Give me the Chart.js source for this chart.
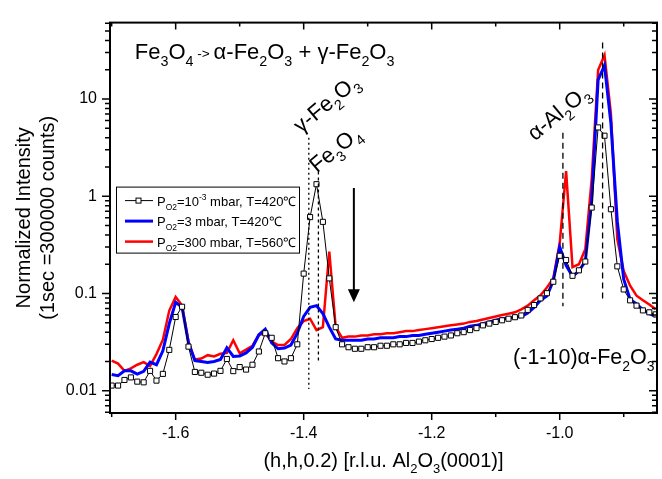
<!DOCTYPE html>
<html><head><meta charset="utf-8">
<script src="https://cdn.jsdelivr.net/npm/chart.js@4/dist/chart.umd.min.js"></script>
<style>html,body{margin:0;padding:0;background:#fff}</style>
</head><body>
<canvas id="c" width="662" height="479"></canvas>
<script>
// ---- data ----
const hValues = [-1.70,-1.69,-1.68,-1.67,-1.66,-1.65,-1.64,-1.63,-1.62,-1.61,-1.60,-1.59,-1.58,-1.57,-1.56,-1.55,-1.54,-1.53,-1.52,-1.51,-1.50,-1.49,-1.48,-1.47,-1.46,-1.45,-1.44,-1.43,-1.42,-1.41,-1.40,-1.39,-1.38,-1.37,-1.36,-1.35,-1.34,-1.33,-1.32,-1.31,-1.30,-1.29,-1.28,-1.27,-1.26,-1.25,-1.24,-1.23,-1.22,-1.21,-1.20,-1.19,-1.18,-1.17,-1.16,-1.15,-1.14,-1.13,-1.12,-1.11,-1.10,-1.09,-1.08,-1.07,-1.06,-1.05,-1.04,-1.03,-1.02,-1.01,-1.00,-0.99,-0.98,-0.97,-0.96,-0.95,-0.94,-0.93,-0.92,-0.91,-0.90,-0.89,-0.88,-0.87,-0.86,-0.85];
const lowP = [0.0113,0.0113,0.0129,0.0137,0.0124,0.0122,0.0160,0.0127,0.0149,0.0263,0.0573,0.0730,0.0284,0.0156,0.0153,0.0146,0.0150,0.0160,0.0212,0.0159,0.0175,0.0165,0.0185,0.0253,0.0390,0.0350,0.0216,0.0200,0.0216,0.0300,0.160,0.610,1.33,0.545,0.143,0.045,0.030,0.028,0.027,0.027,0.028,0.028,0.029,0.029,0.030,0.030,0.031,0.031,0.032,0.033,0.034,0.035,0.036,0.037,0.039,0.040,0.042,0.044,0.047,0.049,0.051,0.053,0.055,0.057,0.0594,0.0678,0.076,0.089,0.1007,0.132,0.244,0.221,0.152,0.173,0.213,0.764,5.10,4.19,0.735,0.190,0.110,0.085,0.075,0.067,0.064,0.061];
const midP = [0.0147,0.0143,0.016,0.016,0.0148,0.0158,0.0197,0.0185,0.0257,0.049,0.081,0.072,0.031,0.0204,0.020,0.0195,0.020,0.021,0.0277,0.0225,0.0228,0.0245,0.028,0.0376,0.043,0.031,0.027,0.0275,0.0295,0.039,0.058,0.072,0.075,0.062,0.045,0.034,0.033,0.033,0.033,0.033,0.034,0.034,0.035,0.035,0.035,0.036,0.036,0.037,0.037,0.038,0.039,0.040,0.041,0.042,0.043,0.044,0.046,0.047,0.049,0.051,0.053,0.055,0.056,0.057,0.058,0.063,0.072,0.085,0.094,0.135,0.30,0.195,0.150,0.170,0.215,0.9,15.7,22.1,5.6,0.55,0.14,0.087,0.078,0.068,0.062,0.058];
const highP = [0.0204,0.019,0.016,0.017,0.0185,0.0197,0.018,0.0238,0.0335,0.0667,0.092,0.075,0.032,0.0209,0.0214,0.0232,0.0225,0.024,0.0245,0.033,0.0243,0.0265,0.029,0.0376,0.039,0.032,0.0295,0.0295,0.034,0.044,0.052,0.055,0.042,0.045,0.27,0.045,0.035,0.036,0.036,0.037,0.037,0.038,0.038,0.039,0.039,0.040,0.041,0.041,0.042,0.043,0.044,0.045,0.046,0.047,0.048,0.049,0.051,0.052,0.054,0.056,0.058,0.060,0.062,0.064,0.0686,0.075,0.085,0.096,0.115,0.143,0.33,1.81,0.187,0.20,0.285,1.5,19.8,28.2,7.05,0.36,0.17,0.12,0.095,0.085,0.077,0.069];
const seriesNames = [
  [["P","n"],["O2","sub"],["=10","n"],["-3","sup"],[" mbar, T=420\u2103","n"]],
  [["P","n"],["O2","sub"],["=3 mbar, T=420\u2103","n"]],
  [["P","n"],["O2","sub"],["=300 mbar, T=560\u2103","n"]]
];
const xTickValues = [-1.6,-1.4,-1.2,-1.0];
const xMinorValues = [-1.7,-1.5,-1.3,-1.1,-0.9];
const yTickValues = [0.01,0.1,1,10];

const FONT = '"Liberation Sans", Arial, sans-serif';
function rich(ctx, parts, x, y, size, angle, measureOnly) {
  let cx = 0;
  ctx.save();
  ctx.translate(x, y); ctx.rotate(angle || 0);
  ctx.textBaseline = 'alphabetic'; ctx.textAlign = 'left';
  for (const [t, k] of parts) {
    let s = size, dy = 0;
    if (k === 'sub') { s = size * 0.65; dy = size * 0.32; }
    else if (k === 'sup') { s = size * 0.65; dy = -size * 0.42; }
    else if (k === 'small') { s = size * 0.62; dy = -size * 0.05; }
    ctx.font = s + 'px ' + FONT;
    if (!measureOnly) ctx.fillText(t, cx, dy);
    cx += ctx.measureText(t).width;
  }
  ctx.restore();
  return cx;
}

const deco = {
  id: 'deco',
  afterDraw(chart) {
    const ctx = chart.ctx, a = chart.chartArea, xs = chart.scales.x, ys = chart.scales.y;
    const X = v => xs.getPixelForValue(v), Y = v => ys.getPixelForValue(v);
    ctx.save();
    ctx.strokeStyle = '#000'; ctx.fillStyle = '#000';
    // frame
    ctx.lineWidth = 2;
    ctx.strokeRect(a.left, a.top, a.right - a.left, a.bottom - a.top);
    // x ticks
    ctx.lineWidth = 1.5;
    const xt = (v, len) => {
      const p = X(v);
      ctx.beginPath(); ctx.moveTo(p, a.bottom); ctx.lineTo(p, a.bottom + len);
      ctx.moveTo(p, a.top); ctx.lineTo(p, a.top + len); ctx.stroke();
    };
    xTickValues.forEach(v => xt(v, 7));
    xMinorValues.forEach(v => xt(v, 4));
    // y ticks
    for (let e = -3; e <= 2; e++) {
      for (let m = 1; m <= 9; m++) {
        const v = m * Math.pow(10, e);
        if (v < ys.min || v > ys.max) continue;
        const p = Y(v), len = m === 1 ? 8 : 5;
        ctx.beginPath(); ctx.moveTo(a.left, p); ctx.lineTo(a.left - len, p);
        ctx.moveTo(a.right, p); ctx.lineTo(a.right - len, p); ctx.stroke();
      }
    }
    // reference lines
    ctx.lineWidth = 1.3;
    const vline = (xv, y1, y2, dash) => {
      ctx.setLineDash(dash); ctx.beginPath();
      ctx.moveTo(X(xv), Y(y1)); ctx.lineTo(X(xv), Y(y2)); ctx.stroke();
    };
    vline(-1.392, 4.0, 0.0104, [2, 3]);
    vline(-1.377, 1.8, 0.02, [3, 3]);
    vline(-0.995, 4.5, 0.074, [6, 4]);
    vline(-0.933, 38, 0.081, [6, 4]);
    ctx.setLineDash([]);
    // arrow
    const ax = X(-1.3216), ay1 = Y(1.215), ay2 = Y(0.081);
    ctx.lineWidth = 2;
    ctx.beginPath(); ctx.moveTo(ax, ay1); ctx.lineTo(ax, ay2 - 10); ctx.stroke();
    ctx.beginPath(); ctx.moveTo(ax - 6, ay2 - 13); ctx.lineTo(ax + 6, ay2 - 13); ctx.lineTo(ax, ay2); ctx.closePath(); ctx.fill();
    // texts
    const ang = -40 * Math.PI / 180;
    rich(ctx, [["Fe","n"],["3","sub"],["O","n"],["4","sub"],[" -> ","small"],["\u03b1-Fe","n"],["2","sub"],["O","n"],["3","sub"],[" + \u03b3-Fe","n"],["2","sub"],["O","n"],["3","sub"]], X(-1.6638), Y(25.6), 22);
    rich(ctx, [["\u03b3-Fe","n"],["2","sub"],["O","n"],["3","sub"]], X(-1.404), Y(4.38), 22, ang);
    rich(ctx, [["Fe","n"],["3","sub"],["O","n"],["4","sub"]], X(-1.3792), Y(1.71), 22, ang);
    rich(ctx, [["\u03b1-Al","n"],["2","sub"],["O","n"],["3","sub"]], X(-1.0386), Y(3.65), 22, ang);
    rich(ctx, [["(-1-10)\u03b1-Fe","n"],["2","sub"],["O","n"],["3","sub"]], X(-1.0728), Y(0.0188), 21.5);
    // axis titles
    const xt1 = [["(h,h,0.2) [r.l.u. Al","n"],["2","sub"],["O","n"],["3","sub"],["(0001)]","n"]];
    const w = rich(ctx, xt1, 0, 0, 20, 0, true);
    rich(ctx, xt1, (a.left + a.right) / 2 - w / 2, 467, 20);
    ctx.font = '20px ' + FONT; ctx.textAlign = 'center'; ctx.textBaseline = 'middle';
    ctx.save(); ctx.translate(24, (a.top + a.bottom) / 2); ctx.rotate(-Math.PI / 2);
    ctx.fillText('Normalized Intensity', 0, 0);
    ctx.fillText('(1sec =300000 counts)', 0, 24);
    ctx.restore();
    // legend
    const lx = a.left + 6, ly = a.top + 164, lw = 183, lh = 66;
    ctx.fillStyle = '#fff'; ctx.fillRect(lx, ly, lw, lh);
    ctx.lineWidth = 1; ctx.strokeStyle = '#000'; ctx.strokeRect(lx + 0.5, ly + 0.5, lw, lh);
    ctx.fillStyle = '#000';
    const ds = chart.data.datasets;
    for (let i = 0; i < 3; i++) {
      const ry = ly + 14 + i * 20.5;
      ctx.strokeStyle = ds[i].borderColor; ctx.lineWidth = ds[i].borderWidth;
      ctx.beginPath(); ctx.moveTo(lx + 9, ry); ctx.lineTo(lx + 37, ry); ctx.stroke();
      if (i === 0) {
        ctx.fillStyle = '#fff'; ctx.fillRect(lx + 20, ry - 2.5, 5, 5);
        ctx.lineWidth = 1; ctx.strokeRect(lx + 20, ry - 2.5, 5, 5);
        ctx.fillStyle = '#000';
      }
      rich(ctx, seriesNames[i], lx + 41, ry + 5, 13);
    }
    ctx.restore();
  }
};

const mk = arr => hValues.map((x, i) => ({x, y: arr[i]}));
new Chart(document.getElementById('c'), {
  type: 'line',
  data: { datasets: [
    { label: 'PO2=10^-3 mbar, T=420C', data: mk(lowP), borderColor: '#000', borderWidth: 1, pointStyle: 'rect', pointRadius: 3.6, pointBackgroundColor: '#fff', pointBorderColor: '#000', pointBorderWidth: 1, order: 0 },
    { label: 'PO2=3 mbar, T=420C', data: mk(midP), borderColor: '#0000ff', borderWidth: 3, pointRadius: 0, order: 1 },
    { label: 'PO2=300 mbar, T=560C', data: mk(highP), borderColor: '#ff0000', borderWidth: 2.5, pointRadius: 0, order: 2 }
  ]},
  options: {
    responsive: false, animation: false,
    layout: { padding: { left: 0, right: 2, top: 9, bottom: 0 } },
    plugins: { legend: { display: false }, tooltip: { enabled: false } },
    scales: {
      x: { type: 'linear', min: -1.7026, max: -0.848,
        grid: { display: false, drawTicks: false }, border: { display: false },
        afterBuildTicks: s => { s.ticks = xTickValues.map(v => ({value: v})); },
        afterFit: s => { s.height = 66; },
        ticks: { autoSkip: false, maxRotation: 0, padding: 11, color: '#000', font: { size: 16, family: FONT }, callback: v => Number(v).toFixed(1) } },
      y: { type: 'logarithmic', min: 0.0059, max: 61,
        grid: { display: false, drawTicks: false }, border: { display: false },
        afterBuildTicks: s => { s.ticks = yTickValues.map(v => ({value: v})); },
        afterFit: s => { s.width = 110; },
        ticks: { autoSkip: false, padding: 13, color: '#000', font: { size: 16, family: FONT }, callback: v => String(v) } }
    }
  },
  plugins: [deco]
});
</script>
</body></html>
